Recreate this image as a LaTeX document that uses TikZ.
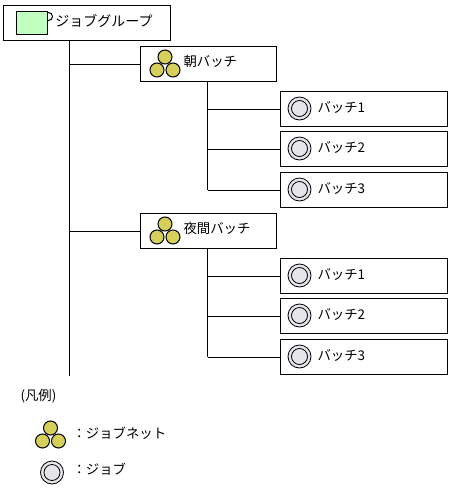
\documentclass[tikz,border=0pt]{standalone}
\usepackage{fontspec}
\setmainfont{Noto Sans CJK JP}
\tikzset{
    jobnet/.pic={
        \draw[fill=netyellow] (0,-6.5) circle (7);
        \draw[fill=netyellow] (-8,6.5) circle (7);
        \draw[fill=netyellow] (8,6.5) circle (7);
    },
    jobicon/.pic={
        \draw[fill=jobgray, line width=0.8pt] (0,0) circle (11.5);
        \draw[fill=jobgray, line width=0.8pt] (0,0) circle (8);
    }
}
\definecolor{netyellow}{RGB}{214,208,90}
\definecolor{jobgray}{RGB}{232,228,236}
\definecolor{groupgreen}{RGB}{192,255,192}
\begin{document}
\begin{tikzpicture}[
    x=1pt, y=-1pt, line width=1pt,
    box/.style={draw, rectangle, fill=white, anchor=north west, inner sep=0pt},
    groupbox/.style={box, minimum width=166.5pt, minimum height=35pt},
    netbox/.style={box, minimum width=135.5pt, minimum height=35pt},
    batchbox/.style={box, minimum width=166.5pt, minimum height=35pt},
    label/.style={anchor=west, inner sep=0pt, font=\fontsize{13.4}{15}\selectfont}
]
\useasboundingbox (0,0) rectangle (449,491);

% ジョブグループ
\node[groupbox] (group) at (3,5) {};
\draw[fill=white] (48.5,16.5) circle (4);
\draw[fill=groupgreen] (16.5,11.5) rectangle (47.5,34.5);
\node[label, font=\fontsize{14}{15}\selectfont] (grouplabel) at (55,21) {ジョブグループ};

% 幹線
\coordinate (trunkend) at (69.5,376);
\draw (group.south -| trunkend) -- (trunkend);

% ジョブネットとジョブ
\foreach \y/\name/\title/\a/\b/\c in {46/morning/朝バッチ/91/131/172, 213/night/夜間バッチ/258/298/339} {
    \node[netbox] (\name) at (140,\y) {};
    \pic at (165,\y+17.5) {jobnet};
    \node[label] (\name label) at (183,\y+15.5) {\title};
    \draw (\name.west) -- (\name.west -| trunkend);
    \coordinate (\name trunk) at (207.5,\y+35);
    \foreach \top/\n in {\a/1, \b/2, \c/3} {
        \node[batchbox] (\name job\n) at (280,\top) {};
        \pic at (299.5,\top+17.5) {jobicon};
        \node[label] (\name joblabel\n) at (317,\top+16.5) {バッチ\n};
        \draw (\name job\n.west) -- (\name job\n.west -| \name trunk);
    }
    \draw (\name trunk) -- (\name trunk |- \name job3.west);
}

% 凡例
\node[label] (legend) at (20,396.5) {(凡例)};
\pic at (50.5,434.5) {jobnet};
\node[label] (legendnet) at (72,433.5) {：ジョブネット};
\pic at (52,472.5) {jobicon};
\node[label] (legendjob) at (72,469.5) {：ジョブ};
\end{tikzpicture}
\end{document}
